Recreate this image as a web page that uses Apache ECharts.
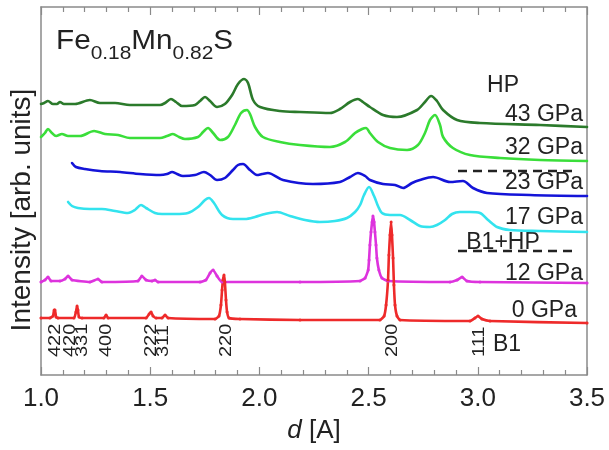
<!DOCTYPE html>
<html><head><meta charset="utf-8">
<script src="https://cdn.jsdelivr.net/npm/echarts@6/dist/echarts.min.js"></script>
<style>html,body{margin:0;padding:0;background:#fff}#c{width:609px;height:450px}</style>
</head><body><div id="c"></div>
<script>
// x axis: d spacing [A]
const xTicks = [1.0, 1.5, 2.0, 2.5, 3.0, 3.5];
const seriesNames = ['43 GPa', '32 GPa', '23 GPa', '17 GPa', '12 GPa', '0 GPa'];
const hklLabels = ['422', '420', '331', '400', '222', '311', '220', '200', '111'];
const hklD = [1.064, 1.133, 1.188, 1.298, 1.504, 1.559, 1.847, 2.607, 3.005];

// intensity (arb. units, stacked with offsets) vs d
const s43 = [[1.000,271],[1.014,272],[1.032,274],[1.055,271],[1.073,271],[1.087,273],[1.105,271],[1.156,271],[1.224,275],[1.270,272],[1.339,272],[1.407,270],[1.545,270],[1.568,272],[1.595,276],[1.618,273],[1.645,269],[1.705,270],[1.728,274],[1.751,278],[1.774,274],[1.806,268],[1.842,271],[1.875,280],[1.902,291],[1.930,296],[1.948,292],[1.971,275],[2.003,268],[2.094,264],[2.186,263],[2.323,262],[2.369,266],[2.415,273],[2.451,276],[2.474,273],[2.506,268],[2.566,260],[2.630,258],[2.722,265],[2.758,273],[2.786,279],[2.813,274],[2.841,265],[2.905,255],[3.010,252],[3.285,250],[3.500,248]];
const s32 = [[1.000,238],[1.018,242],[1.032,246],[1.050,242],[1.069,239],[1.096,241],[1.124,239],[1.179,239],[1.243,244],[1.293,241],[1.353,240],[1.407,237],[1.545,237],[1.577,239],[1.604,241],[1.632,238],[1.659,236],[1.719,238],[1.742,243],[1.765,247],[1.788,242],[1.820,235],[1.856,238],[1.888,250],[1.916,262],[1.943,265],[1.957,261],[1.980,248],[2.016,238],[2.094,233],[2.186,230],[2.323,228],[2.392,233],[2.438,242],[2.470,246],[2.488,247],[2.506,242],[2.543,233],[2.598,227],[2.676,225],[2.726,230],[2.758,242],[2.781,255],[2.804,260],[2.827,250],[2.841,238],[2.886,227],[2.964,220],[3.102,217],[3.285,215],[3.500,214]];
const s23 = [[1.142,212],[1.160,208],[1.201,206],[1.270,204],[1.362,203],[1.453,201],[1.545,200],[1.577,201],[1.600,203],[1.623,201],[1.650,199],[1.705,200],[1.746,203],[1.774,200],[1.806,195],[1.842,197],[1.879,205],[1.902,210],[1.925,211],[1.957,205],[1.989,200],[2.012,201],[2.039,202],[2.108,195],[2.245,191],[2.369,193],[2.415,198],[2.451,202],[2.484,199],[2.506,195],[2.566,191],[2.621,190],[2.658,187],[2.699,192],[2.735,195],[2.795,198],[2.873,193],[2.932,194],[2.978,187],[3.042,182],[3.239,180],[3.500,179]];
const s17 = [[1.124,173],[1.142,169],[1.169,167],[1.224,166],[1.279,166],[1.339,164],[1.398,162],[1.430,165],[1.458,170],[1.481,167],[1.522,162],[1.554,161],[1.614,161],[1.673,162],[1.719,168],[1.751,175],[1.769,177],[1.792,172],[1.829,160],[1.879,156],[1.934,156],[1.980,158],[2.026,161],[2.081,163],[2.140,159],[2.209,155],[2.277,153],[2.346,154],[2.401,157],[2.438,163],[2.461,170],[2.479,180],[2.502,188],[2.525,179],[2.543,169],[2.561,162],[2.598,160],[2.644,160],[2.690,155],[2.735,149],[2.781,148],[2.813,150],[2.850,155],[2.882,161],[2.918,163],[2.964,163],[3.010,162],[3.047,155],[3.088,148],[3.147,145],[3.285,144],[3.500,143]];
const s12 = [[1.000,93],[1.018,95],[1.032,98],[1.046,94],[1.087,94],[1.110,96],[1.124,99],[1.142,95],[1.224,93],[1.261,96],[1.279,93],[1.444,94],[1.462,99],[1.481,95],[1.508,94],[1.522,95],[1.536,93],[1.728,93],[1.755,95],[1.774,102],[1.788,105],[1.806,99],[1.829,93],[2.186,93],[2.461,94],[2.484,97],[2.498,105],[2.502,115],[2.506,130],[2.511,143],[2.516,153],[2.520,159],[2.525,153],[2.529,143],[2.534,130],[2.538,117],[2.547,105],[2.561,97],[2.589,94],[2.873,93],[2.905,95],[2.928,98],[2.950,94],[3.010,93],[3.500,92]];
const s0 = [[1.000,57],[1.041,57],[1.055,59],[1.060,65],[1.064,65],[1.069,58],[1.078,57],[1.151,57],[1.160,63],[1.165,69],[1.169,65],[1.174,58],[1.188,57],[1.288,57],[1.298,60],[1.307,57],[1.481,57],[1.495,61],[1.504,63],[1.513,59],[1.527,57],[1.554,57],[1.568,60],[1.582,57],[1.797,56],[1.815,59],[1.824,70],[1.829,85],[1.833,95],[1.838,100],[1.842,93],[1.847,75],[1.852,63],[1.861,57],[1.911,56],[2.186,55],[2.552,55],[2.571,59],[2.580,70],[2.589,95],[2.593,120],[2.598,140],[2.603,153],[2.607,140],[2.612,117],[2.616,90],[2.621,70],[2.630,59],[2.644,55],[2.964,54],[2.987,57],[3.001,59],[3.019,56],[3.056,54],[3.500,52]];

const FONT = "'Liberation Sans', Arial, Helvetica, sans-serif";
const TXT = '#222';
const AX = '#8a8a8a';

const chart = echarts.init(document.getElementById('c'), null, {renderer: 'canvas'});

function lineSeries(name, data, color, smooth, dots) {
  return {
    name, type: 'line', data, xAxisIndex: 0, yAxisIndex: 0,
    smooth: smooth,
    showSymbol: !!dots, showAllSymbol: true, symbol: 'circle', symbolSize: dots ? 3 : 0,
    itemStyle: {color},
    lineStyle: {color, width: 2.6, join: 'round', cap: 'round'},
    emphasis: {disabled: true}, silent: true
  };
}

const axisCommon = {
  type: 'value', min: 1.0, max: 3.5, interval: 0.5,
  axisLine: {show: true, onZero: false, lineStyle: {color: AX, width: 1.5}},
  axisTick: {show: true, inside: true, length: 8, lineStyle: {color: AX, width: 1.2}},
  minorTick: {show: true, splitNumber: 5, length: 5, lineStyle: {color: AX, width: 1.2}},
  splitLine: {show: false}, minorSplitLine: {show: false}
};

chart.setOption({
  animation: false,
  backgroundColor: '#fff',
  grid: {left: 41, right: 22, top: 7, bottom: 75, containLabel: false},
  xAxis: [
    Object.assign({}, axisCommon, {
      position: 'bottom',
      axisLabel: {show: true, margin: 11, fontSize: 26, color: TXT, fontFamily: FONT,
        formatter: v => (xTicks.indexOf(+v.toFixed(1)) >= 0 ? v.toFixed(1) : '')},
      name: '{i|d} [A]', nameLocation: 'middle', nameGap: 43,
      nameTextStyle: {fontSize: 26, color: TXT, fontFamily: FONT,
        rich: {i: {fontSize: 26, fontStyle: 'italic', color: TXT, fontFamily: FONT}}}
    }),
    Object.assign({}, axisCommon, {position: 'top', axisLabel: {show: false}})
  ],
  yAxis: [
    {type: 'value', min: 0, max: 368, position: 'left',
      axisLine: {show: true, lineStyle: {color: AX, width: 1.5}},
      axisTick: {show: false}, axisLabel: {show: false}, splitLine: {show: false}},
    {type: 'value', min: 0, max: 368, position: 'right',
      axisLine: {show: true, lineStyle: {color: AX, width: 1.5}},
      axisTick: {show: false}, axisLabel: {show: false}, splitLine: {show: false}}
  ],
  series: [
    lineSeries(seriesNames[0], s43, '#2b7a2b', 0.3, false),
    lineSeries(seriesNames[1], s32, '#3ade3a', 0.3, false),
    lineSeries(seriesNames[2], s23, '#1414d8', 0.3, false),
    lineSeries(seriesNames[3], s17, '#33e3ee', 0.3, false),
    lineSeries(seriesNames[4], s12, '#dd33dd', 0.15, true),
    lineSeries(seriesNames[5], s0, '#ee2a2a', 0.15, true)
  ]
});

// annotations
const g = [];
function txt(text, x, y, align, size, extra) {
  g.push(Object.assign({type: 'text', x, y, silent: true,
    style: {text, fill: TXT, fontSize: size, fontFamily: FONT, align, verticalAlign: 'middle'}}, extra || {}));
}
// formula title
g.push({type: 'text', x: 56, y: 28, silent: true, scaleX: 1.1,
  style: {text: '{a|Fe}{b|0.18}{a|Mn}{b|0.82}{a|S}', fill: TXT, align: 'left', verticalAlign: 'top',
    rich: {
      a: {fontSize: 27, fontFamily: FONT, fill: TXT, color: TXT, verticalAlign: 'bottom', padding: [0, 0, 8, 0]},
      b: {fontSize: 19, fontFamily: FONT, fill: TXT, color: TXT, verticalAlign: 'bottom'}
    }}});
// y axis title
g.push({type: 'text', x: 22, y: 210, rotation: Math.PI / 2, silent: true,
  style: {text: 'Intensity [arb. units]', fill: TXT, fontSize: 28, fontFamily: FONT, align: 'center', verticalAlign: 'middle'}});

txt('HP', 503, 86, 'center', 23);
const labelY = [115, 148, 183, 218, 274, 311];
const labelX = [583, 583, 583, 583, 583, 577];
seriesNames.forEach((n, i) => txt(n, labelX[i], labelY[i], 'right', 23));
txt('B1+HP', 503, 243, 'center', 23);
txt('B1', 493, 345, 'left', 23);

g.push({type: 'line', silent: true, shape: {x1: 458, y1: 171, x2: 575, y2: 171},
  style: {stroke: TXT, lineWidth: 2.5, lineDash: [9, 6]}});
g.push({type: 'line', silent: true, shape: {x1: 458, y1: 251, x2: 575, y2: 251},
  style: {stroke: TXT, lineWidth: 2.5, lineDash: [9, 6]}});

hklLabels.forEach((t, i) => {
  const px = chart.convertToPixel({xAxisIndex: 0}, hklD[i]);
  g.push({type: 'text', x: px, y: 357, rotation: Math.PI / 2, scaleY: 0.85, silent: true,
    style: {text: t, fill: TXT, fontSize: 20, fontFamily: FONT, align: 'left', verticalAlign: 'middle'}});
});

chart.setOption({graphic: g});
</script>
</body></html>
